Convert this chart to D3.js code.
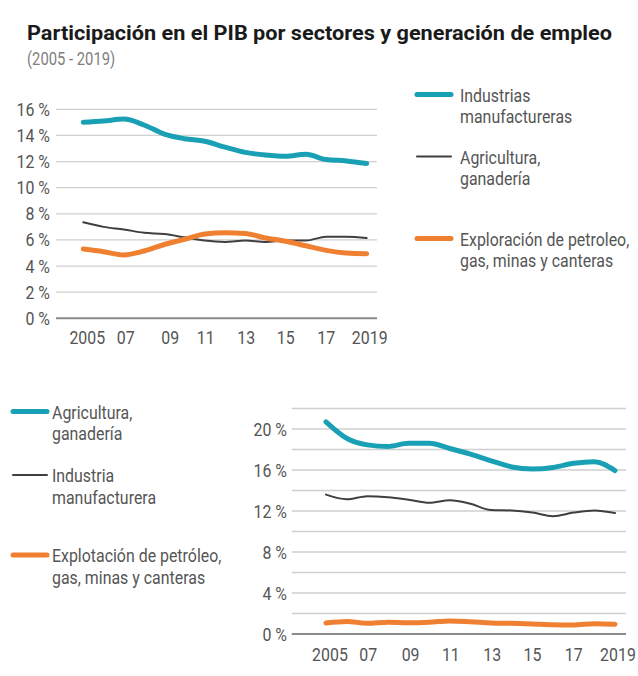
<!DOCTYPE html>
<html>
<head>
<meta charset="utf-8">
<script src="https://cdn.jsdelivr.net/npm/d3@7"></script>
<style>
  html, body { margin: 0; padding: 0; background: #fff; }
  svg { display: block; font-family: Roboto, "Noto Sans", sans-serif; }
</style>
</head>
<body>
<svg id="chart" width="638" height="676"></svg>
<script>
// ---------- DATA ----------
const years = [2005, 2006, 2007, 2008, 2009, 2010, 2011, 2012, 2013, 2014, 2015, 2016, 2017, 2018, 2019];
const tickYears = [2005, 2007, 2009, 2011, 2013, 2015, 2017, 2019];
const tickYearLabels = ["2005", "07", "09", "11", "13", "15", "17", "2019"];

// Top chart: participación en el PIB (%)
const pibIndustrias   = [15.0, 15.1, 15.25, 14.8, 14.1, 13.75, 13.55, 13.1, 12.7, 12.5, 12.4, 12.55, 12.15, 12.05, 11.85];
const pibAgricultura  = [7.35, 7.0, 6.8, 6.55, 6.45, 6.2, 5.95, 5.85, 5.95, 5.85, 5.95, 5.95, 6.25, 6.25, 6.15];
const pibExploracion  = [5.3, 5.1, 4.85, 5.15, 5.65, 6.05, 6.45, 6.55, 6.5, 6.15, 5.9, 5.55, 5.2, 5.0, 4.95];
const topYTicks = [0, 2, 4, 6, 8, 10, 12, 14, 16];

// Bottom chart: generación de empleo (%)
const empAgricultura  = [20.7, 19.1, 18.45, 18.3, 18.6, 18.6, 18.1, 17.55, 16.9, 16.3, 16.1, 16.25, 16.65, 16.8, 15.95];
const empIndustria    = [13.6, 13.15, 13.45, 13.35, 13.1, 12.8, 13.05, 12.7, 12.1, 12.05, 11.85, 11.5, 11.85, 12.05, 11.8];
const empExplotacion  = [1.07, 1.22, 1.05, 1.15, 1.1, 1.15, 1.28, 1.2, 1.08, 1.04, 0.98, 0.9, 0.88, 1.0, 0.95];
const bottomGridTicks = [0, 2, 4, 6, 8, 10, 12, 14, 16, 18, 20, 22];
const bottomLabelTicks = [0, 4, 8, 12, 16, 20];

const title = "Participación en el PIB por sectores y generación de empleo";
const subtitle = "(2005 - 2019)";
const topLegend = [
  { key: "ind", lines: ["Industrias", "manufactureras"] },
  { key: "agr", lines: ["Agricultura,", "ganadería"] },
  { key: "exp", lines: ["Exploración de petroleo,", "gas, minas y canteras"] }
];
const bottomLegend = [
  { key: "agrB", lines: ["Agricultura,", "ganadería"] },
  { key: "indB", lines: ["Industria", "manufacturera"] },
  { key: "expB", lines: ["Explotación de petróleo,", "gas, minas y canteras"] }
];

// ---------- STYLES ----------
const COLORS = { blue: "#1aa0b4", gray: "#3f3f3f", orange: "#ef8031" };
const styleOf = {
  ind:  { color: COLORS.blue,   width: 5 },
  agr:  { color: COLORS.gray,   width: 2 },
  exp:  { color: COLORS.orange, width: 5 },
  agrB: { color: COLORS.blue,   width: 5 },
  indB: { color: COLORS.gray,   width: 2 },
  expB: { color: COLORS.orange, width: 5 }
};
const SX = 0.86; // horizontal condensing to mimic condensed face
const textColor = "#555";

const svg = d3.select("#chart");

function ctext(parent, x, y, str, o = {}) {
  return parent.append("text")
    .attr("transform", `translate(${x},${y}) scale(${o.sx || SX},1)`)
    .attr("text-anchor", o.anchor || "start")
    .attr("font-size", o.size || 18.5)
    .attr("font-weight", o.weight || 400)
    .attr("fill", o.fill || textColor)
    .text(str);
}

// ---------- TITLE ----------
svg.append("text")
  .attr("x", 27).attr("y", 40)
  .attr("font-size", 21).attr("font-weight", 700).attr("fill", "#1a1a1a")
  .attr("textLength", 585).attr("lengthAdjust", "spacingAndGlyphs")
  .text(title);
ctext(svg, 27, 65, subtitle, { size: 18.5, sx: 0.8, fill: "#808080" });

// ---------- CHART BUILDER ----------
function drawChart(cfg) {
  const g = svg.append("g");
  const x = d3.scaleLinear().domain([2005, 2019]).range(cfg.xRange);
  const y = d3.scaleLinear().domain(cfg.yDomain).range(cfg.yRange);

  // gridlines
  g.selectAll("line.grid").data(cfg.gridTicks.filter(d => d !== 0)).join("line")
    .attr("x1", cfg.gridX[0]).attr("x2", cfg.gridX[1])
    .attr("y1", d => y(d)).attr("y2", d => y(d))
    .attr("stroke", "#cfcfcf").attr("stroke-width", 1.3);
  g.append("line")
    .attr("x1", cfg.gridX[0]).attr("x2", cfg.gridX[1])
    .attr("y1", y(0)).attr("y2", y(0))
    .attr("stroke", "#8a8a8a").attr("stroke-width", 2);

  // y labels
  cfg.labelTicks.forEach(d => {
    ctext(g, cfg.yLabelX, y(d) + 6.5, d + " %", { anchor: "end" });
  });
  // x labels
  tickYears.forEach((yr, i) => {
    ctext(g, x(yr) + (cfg.xLabelDx ? cfg.xLabelDx[i] : 0), cfg.xLabelY, tickYearLabels[i], { anchor: "middle" });
  });

  const line = d3.line().x((d, i) => x(years[i])).y(d => y(d)).curve(d3.curveMonotoneX);
  cfg.series.forEach(s => {
    const st = styleOf[s.key];
    g.append("path").datum(s.values)
      .attr("d", line)
      .attr("fill", "none")
      .attr("stroke", st.color).attr("stroke-width", st.width)
      .attr("stroke-linecap", "round").attr("stroke-linejoin", "round");
  });

  // legend
  cfg.legend.forEach((item, i) => {
    const st = styleOf[item.key];
    const ly = cfg.legendY[i];
    g.append("line")
      .attr("x1", cfg.legendLine[0]).attr("x2", cfg.legendLine[1])
      .attr("y1", ly).attr("y2", ly)
      .attr("stroke", st.color).attr("stroke-width", st.width)
      .attr("stroke-linecap", "round");
    item.lines.forEach((t, j) => {
      ctext(g, cfg.legendTextX, ly + 7 + j * 21.5, t);
    });
  });
}

drawChart({
  xRange: [83.3, 366.7],
  gridX: [56, 377],
  yDomain: [0, 16],
  yRange: [318.3, 109.3],
  gridTicks: topYTicks,
  labelTicks: topYTicks,
  yLabelX: 50,
  xLabelY: 344,
  xLabelDx: [4, 2, 6, 1, 1, 0, 0, 3],
  series: [
    { key: "agr", values: pibAgricultura },
    { key: "exp", values: pibExploracion },
    { key: "ind", values: pibIndustrias }
  ],
  legend: topLegend,
  legendY: [94.5, 156.5, 238.5],
  legendLine: [417, 451],
  legendTextX: 460
});

drawChart({
  xRange: [326, 615],
  gridX: [291.7, 626],
  yDomain: [0, 22],
  yRange: [634, 408.5],
  gridTicks: bottomGridTicks,
  labelTicks: bottomLabelTicks,
  yLabelX: 287,
  xLabelY: 661,
  xLabelDx: [4, 1, 2, 1, 1, 0, 0, 3],
  series: [
    { key: "indB", values: empIndustria },
    { key: "expB", values: empExplotacion },
    { key: "agrB", values: empAgricultura }
  ],
  legend: bottomLegend,
  legendY: [411.5, 475, 555],
  legendLine: [13, 47],
  legendTextX: 52
});
</script>
</body>
</html>
